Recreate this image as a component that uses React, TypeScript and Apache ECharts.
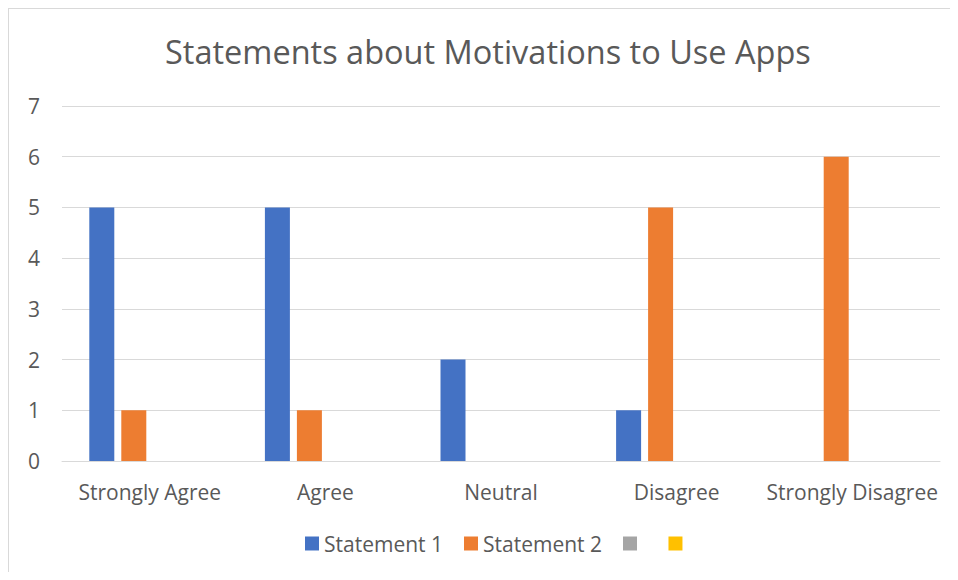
import React, { useEffect, useRef } from "react";
import * as echarts from "echarts";

const categories = ["Strongly Agree", "Agree", "Neutral", "Disagree", "Strongly Disagree"];
const statement1 = [5, 5, 2, 1, null];
const statement2 = [1, 1, null, 5, 6];
const series3: (number | null)[] = [null, null, null, null, null];
const series4: (number | null)[] = [null, null, null, null, null];
const seriesNames = ["Statement 1", "Statement 2", " ", "  "];
const colors = ["#4472C4", "#ED7D31", "#A5A5A5", "#FFC000"];

const FONT = "'Open Sans', sans-serif";

export default function App() {
  const ref = useRef<HTMLDivElement>(null);
  useEffect(() => {
    if (!ref.current) return;
    const chart = echarts.init(ref.current, undefined, { renderer: "svg" });
    const data = [statement1, statement2, series3, series4];
    chart.setOption({
      animation: false,
      color: colors,
      title: {
        text: "Statements about Motivations to Use Apps",
        left: 151,
        top: 21,
        textStyle: { fontFamily: FONT, fontSize: 32.5, fontWeight: "normal", color: "#595959" },
      },
      legend: {
        data: seriesNames,
        bottom: 13,
        left: 291,
        itemWidth: 14,
        itemHeight: 14,
        itemGap: 21,
        icon: "rect",
        textStyle: { fontFamily: FONT, fontSize: 21, color: "#595959" },
      },
      grid: { left: 53, right: 10, top: 97, bottom: 111 },
      xAxis: {
        type: "category",
        data: categories,
        axisLine: { show: true, lineStyle: { color: "#d9d9d9", width: 1 } },
        axisTick: { show: false },
        axisLabel: { fontFamily: FONT, fontSize: 21, color: "#595959", margin: 20, interval: 0 },
      },
      yAxis: {
        type: "value",
        min: 0,
        max: 7,
        interval: 1,
        axisLine: { show: false },
        axisTick: { show: false },
        splitLine: { lineStyle: { color: "#d9d9d9", width: 1 } },
        axisLabel: { fontFamily: FONT, fontSize: 21, color: "#595959", margin: 22 },
      },
      series: seriesNames.map((name, i) => ({
        name,
        type: "bar",
        data: data[i],
        barWidth: 25,
        barGap: "28%",
        itemStyle: { color: colors[i] },
      })),
    });
    return () => chart.dispose();
  }, []);
  return (
    <div
      style={{
        width: 942,
        height: 564,
        boxSizing: "border-box",
        borderTop: "1px solid #d9d9d9",
        borderLeft: "1px solid #d9d9d9",
      }}
    >
      <div ref={ref} style={{ width: 941, height: 563 }} />
    </div>
  );
}
